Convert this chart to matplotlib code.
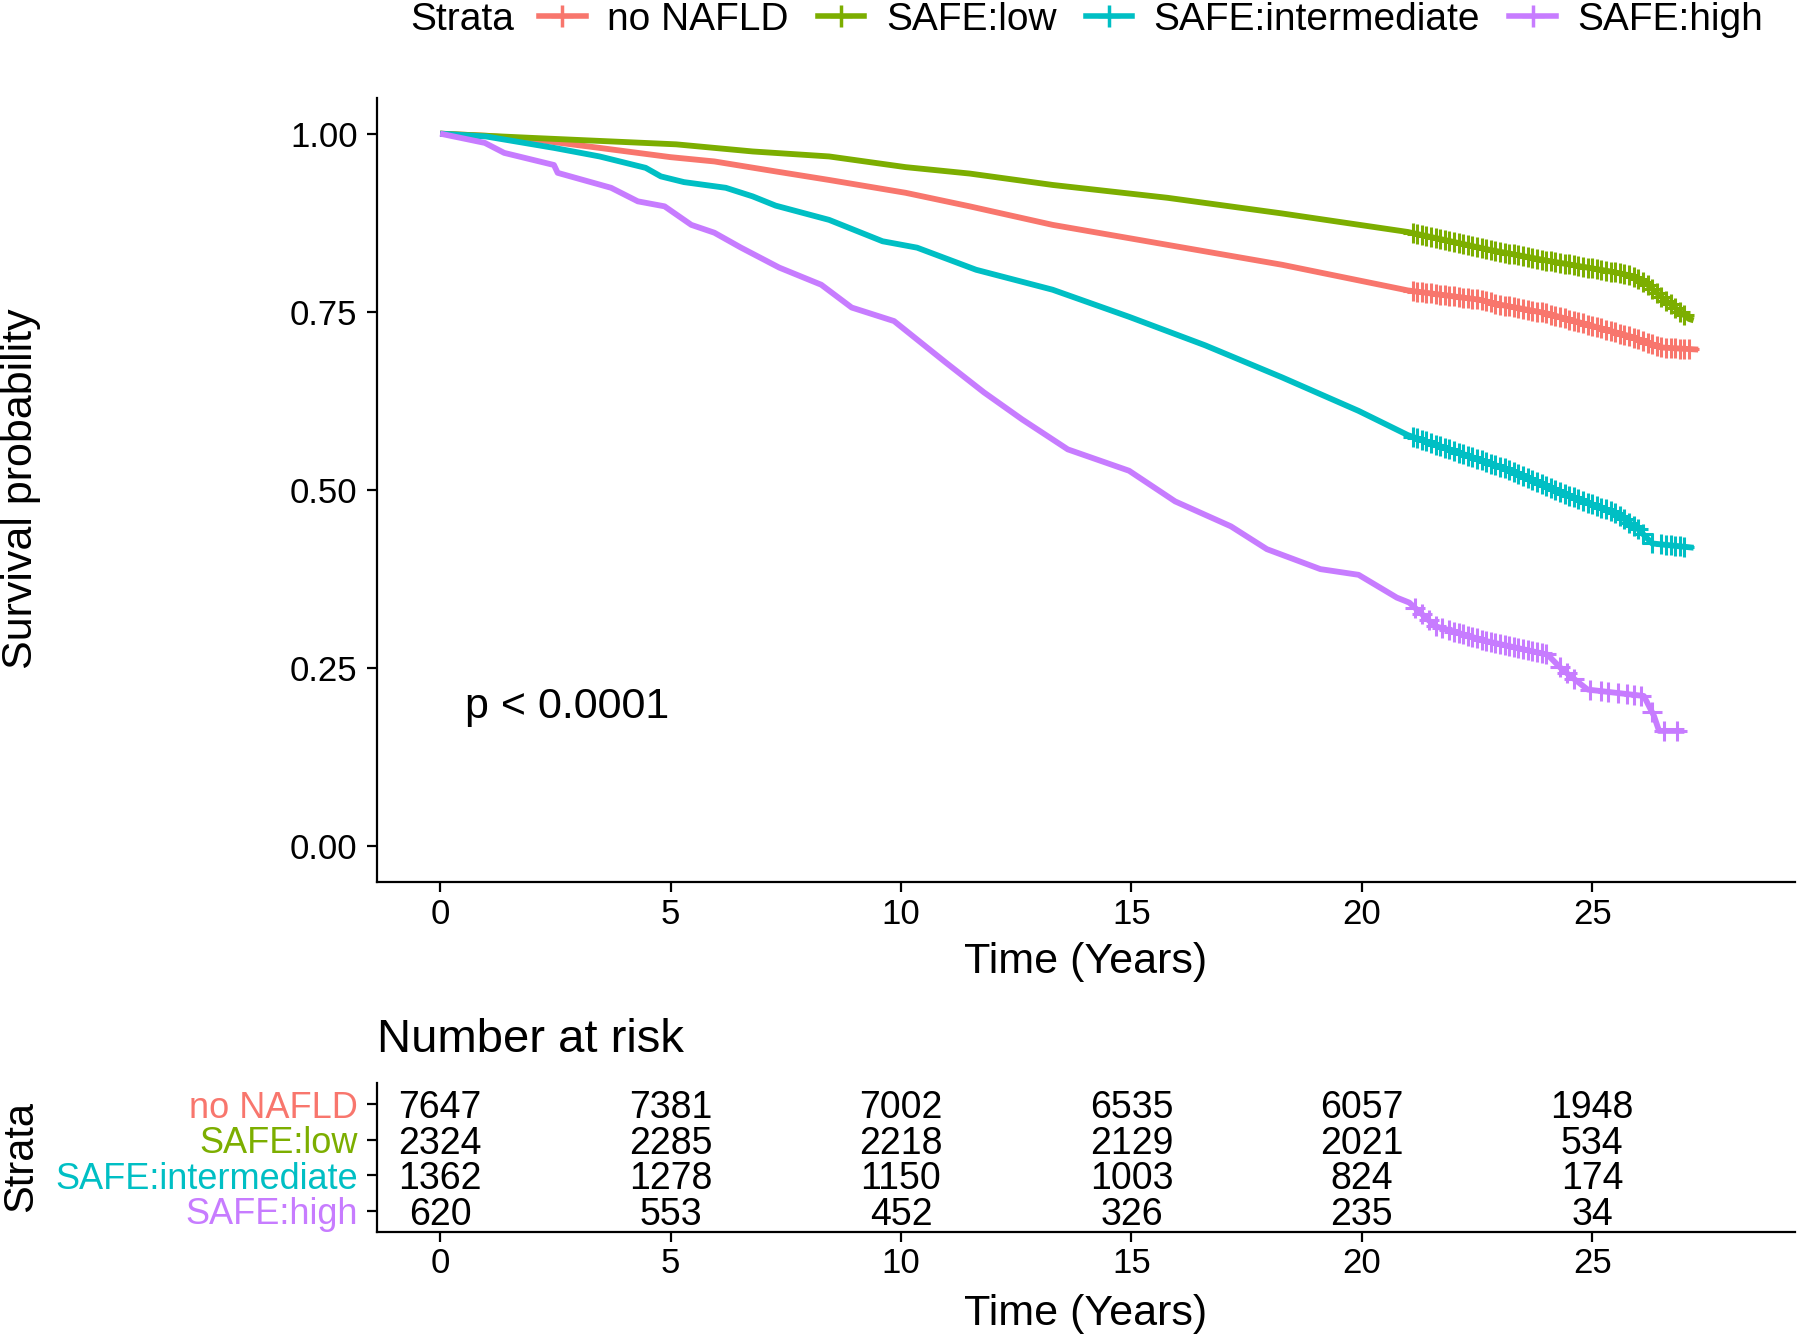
"""
Kaplan-Meier survival by SAFE strata with number-at-risk table.
"""
import matplotlib
matplotlib.use("Agg")
import matplotlib.pyplot as plt
import numpy as np
from matplotlib.lines import Line2D

plt.rcParams["font.family"] = ["Liberation Sans", "DejaVu Sans"]

# ── Data ─────────────────────────────────────────────────────────────────────
strata = ["no NAFLD", "SAFE:low", "SAFE:intermediate", "SAFE:high"]
colors = ["#F8766D", "#7CAE00", "#00BFC4", "#C77CFF"]

t_nonafld = [0, 1, 2, 3.46, 5, 5.95, 7.28, 8.44, 10.1, 11.49, 13.29, 15.78, 18.27,
             21.0, 22.55, 23.0, 24.0, 25.8, 26.5, 27.3]
s_nonafld = [1.000, 0.997, 0.992, 0.980, 0.967, 0.961, 0.947, 0.935, 0.917, 0.898,
             0.872, 0.844, 0.816, 0.780, 0.767, 0.760, 0.748, 0.716, 0.700, 0.697]

t_low = [0, 2, 5.12, 6.78, 8.44, 10.1, 11.49, 13.29, 15.78, 18.27, 21.0, 22.77,
         24.0, 25.45, 25.88, 26.2, 26.5, 27.1, 27.2]
s_low = [1.000, 0.994, 0.985, 0.975, 0.968, 0.953, 0.944, 0.928, 0.910, 0.888,
         0.862, 0.837, 0.822, 0.806, 0.800, 0.788, 0.771, 0.740, 0.738]

t_int = [0, 1, 2.47, 3.46, 4.46, 4.79, 5.29, 6.2, 6.78, 7.28, 8.44, 9.6, 10.35,
         11.63, 13.29, 14.95, 16.6, 18.27, 19.93, 21.0, 23.25, 24.69, 25.5, 26.0,
         26.3, 27.2]
s_int = [1.000, 0.996, 0.980, 0.968, 0.952, 0.940, 0.932, 0.924, 0.912, 0.899,
         0.879, 0.849, 0.840, 0.809, 0.781, 0.743, 0.703, 0.658, 0.611, 0.577,
         0.527, 0.487, 0.468, 0.445, 0.425, 0.419]

t_high = [0, 0.97, 1.39, 2.47, 2.55, 3.71, 4.29, 4.87, 5.45, 5.95, 6.53, 7.36,
          8.27, 8.93, 9.85, 10.97, 11.8, 12.63, 13.62, 14.95, 15.95, 17.16, 17.94,
          19.1, 19.93, 20.76, 21.03, 21.59, 22.7, 24.03, 24.35, 24.9, 26.12, 26.34,
          26.45, 27.0]
s_high = [1.000, 0.987, 0.973, 0.956, 0.945, 0.924, 0.905, 0.898, 0.872, 0.861,
          0.840, 0.812, 0.788, 0.756, 0.737, 0.679, 0.637, 0.599, 0.557, 0.527,
          0.484, 0.449, 0.417, 0.389, 0.381, 0.349, 0.342, 0.309, 0.288, 0.269,
          0.248, 0.220, 0.211, 0.183, 0.162, 0.162]

cens_nonafld = [21.1, 21.2, 21.3, 21.4, 21.5, 21.6, 21.7, 21.8, 21.9, 22.0, 22.1,
                22.2, 22.3, 22.4, 22.5, 22.6, 22.7, 22.8, 22.9, 23.0, 23.1, 23.2,
                23.3, 23.4, 23.5, 23.6, 23.7, 23.8, 23.9, 24.0, 24.1, 24.2, 24.3,
                24.4, 24.5, 24.6, 24.7, 24.8, 24.9, 25.0, 25.1, 25.2, 25.3, 25.4,
                25.5, 25.6, 25.7, 25.8, 25.9, 26.0, 26.1, 26.2, 26.3, 26.4, 26.5,
                26.6, 26.7, 26.8, 26.9, 27.0, 27.1]
cens_low = [21.1, 21.2, 21.3, 21.4, 21.5, 21.6, 21.7, 21.8, 21.9, 22.0, 22.1,
            22.2, 22.3, 22.4, 22.5, 22.6, 22.7, 22.8, 22.9, 23.0, 23.1, 23.2,
            23.3, 23.4, 23.5, 23.6, 23.7, 23.8, 23.9, 24.0, 24.1, 24.2, 24.3,
            24.4, 24.5, 24.6, 24.7, 24.8, 24.9, 25.0, 25.1, 25.2, 25.3, 25.4,
            25.5, 25.6, 25.7, 25.8, 25.9, 26.0, 26.1, 26.2, 26.3, 26.4, 26.5,
            26.6, 26.7, 26.8, 26.9, 27.0]
cens_int = [21.1, 21.2, 21.3, 21.4, 21.5, 21.6, 21.7, 21.8, 21.9, 22.0, 22.1,
            22.2, 22.3, 22.4, 22.5, 22.6, 22.7, 22.8, 22.9, 23.0, 23.1, 23.2,
            23.3, 23.4, 23.5, 23.6, 23.7, 23.8, 23.9, 24.0, 24.1, 24.2, 24.3,
            24.4, 24.5, 24.6, 24.7, 24.8, 24.9, 25.0, 25.1, 25.2, 25.3, 25.4,
            25.5, 25.6, 25.7, 25.8, 25.9, 26.0, 26.1, 26.3, 26.5, 26.6, 26.7,
            26.8, 26.9, 27.0]
cens_high = [21.15, 21.3, 21.45, 21.6, 21.75, 21.9, 22.0, 22.1, 22.2, 22.3, 22.4,
             22.5, 22.6, 22.7, 22.8, 22.9, 23.0, 23.1, 23.2, 23.3, 23.4, 23.5,
             23.6, 23.7, 23.8, 23.9, 24.0, 24.3, 24.45, 24.6, 24.95, 25.2, 25.35,
             25.55, 25.75, 25.9, 26.05, 26.3, 26.55, 26.85]

risk_times = [0, 5, 10, 15, 20, 25]
risk_nonafld = [7647, 7381, 7002, 6535, 6057, 1948]
risk_low = [2324, 2285, 2218, 2129, 2021, 534]
risk_int = [1362, 1278, 1150, 1003, 824, 174]
risk_high = [620, 553, 452, 326, 235, 34]

curves = [(t_nonafld, s_nonafld, cens_nonafld),
          (t_low, s_low, cens_low),
          (t_int, s_int, cens_int),
          (t_high, s_high, cens_high)]
risks = [risk_nonafld, risk_low, risk_int, risk_high]

W, H = 1800, 1335
XLIM = (-1.37, 29.4)

fig = plt.figure(figsize=(W / 100, H / 100), dpi=100)

# ── Survival panel ───────────────────────────────────────────────────────────
ax = fig.add_axes([377 / W, 1 - 882 / H, 1418 / W, 784 / H])
for (t, s, c), col in zip(curves, colors):
    ax.plot(t, s, color=col, lw=4.2, solid_capstyle="butt", zorder=3)
    cy = np.interp(c, t, s)
    ax.plot(c, cy, ls="none", marker="+", ms=14, mew=2.2, color=col, zorder=4)

ax.set_xlim(*XLIM)
ax.set_ylim(-0.05, 1.05)
ax.set_xticks([0, 5, 10, 15, 20, 25])
ax.set_yticks([0, 0.25, 0.5, 0.75, 1.0])
ax.set_yticklabels(["0.00", "0.25", "0.50", "0.75", "1.00"])
for sp in ["top", "right"]:
    ax.spines[sp].set_visible(False)
for sp in ["left", "bottom"]:
    ax.spines[sp].set_linewidth(1.6)
ax.tick_params(axis="both", length=7, width=1.6, labelsize=25, colors="black")
ax.tick_params(axis="y", pad=7)
ax.tick_params(axis="x", pad=4.5)

ax.text(0.5, -0.102, "Time (Years)", transform=ax.transAxes, ha="center",
        va="center", fontsize=31)
fig.text(21 / W, 1 - 489 / H, "Survival probability", rotation=90,
         ha="center", va="center", fontsize=31)
ax.text(0.55, 0.195, "p < 0.0001", ha="left", va="center", fontsize=31)

# ── Legend ───────────────────────────────────────────────────────────────────
fig.text(410 / W, 1 - 20 / H, "Strata", ha="left", va="center", fontsize=28)
handles = [Line2D([0], [0], color=c, lw=4, marker="+", ms=16, mew=2.5) for c in colors]
fig.legend(handles, strata, loc="center left", bbox_to_anchor=(539 / W, 1 - 20 / H),
           ncol=4, frameon=False, fontsize=28, handlelength=1.2, handletextpad=0.55,
           columnspacing=0.75, borderpad=0, borderaxespad=0)

# ── Risk table ───────────────────────────────────────────────────────────────
tab = fig.add_axes([377 / W, 1 - 1232 / H, 1418 / W, 149 / H])
rows = [4, 3, 2, 1]
for r, vals in zip(rows, risks):
    for t, v in zip(risk_times, vals):
        tab.text(t, r, str(v), ha="center", va="center_baseline", fontsize=27)
tab.set_xlim(*XLIM)
tab.set_ylim(0.4, 4.6)
tab.set_xticks(risk_times)
tab.set_yticks(rows)
tab.set_yticklabels(strata, va="center_baseline")
for lbl, col in zip(tab.get_yticklabels(), colors):
    lbl.set_color(col)
for sp in ["top", "right"]:
    tab.spines[sp].set_visible(False)
for sp in ["left", "bottom"]:
    tab.spines[sp].set_linewidth(1.6)
tab.tick_params(axis="both", length=7, width=1.6, labelsize=26)
tab.tick_params(axis="y", pad=7)
tab.tick_params(axis="x", pad=4, labelsize=25)

tab.text(0.5, -0.55, "Time (Years)", transform=tab.transAxes, ha="center",
         va="center", fontsize=31)
fig.text(377 / W, 1 - 1040 / H, "Number at risk", ha="left", va="center", fontsize=34)
fig.text(21 / W, 1 - 1156 / H, "Strata", rotation=90, ha="center", va="center",
         fontsize=30)

fig.savefig("out.png", dpi=100)
